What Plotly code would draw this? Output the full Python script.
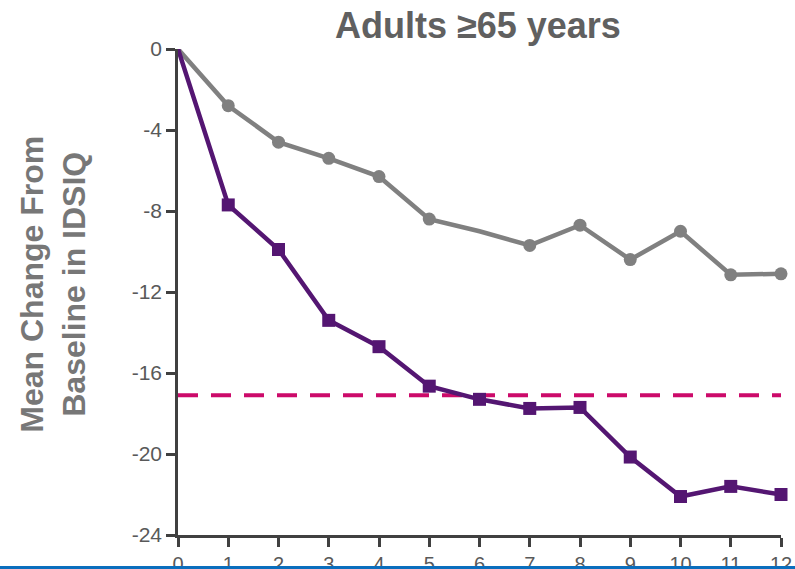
import plotly.graph_objects as go

# Weeks from baseline
weeks = [0, 1, 2, 3, 4, 5, 6, 7, 8, 9, 10, 11, 12]

# Mean change from baseline in IDSIQ
placebo = [0, -2.8, -4.6, -5.4, -6.3, -8.4, -9.0, -9.7, -8.7, -10.4, -9.0, -11.15, -11.1]
active = [0, -7.7, -9.9, -13.4, -14.7, -16.65, -17.3, -17.75, -17.7, -20.15, -22.1, -21.6, -22.0]

# Marker visibility per point (no marker at baseline; placebo week 6 unmarked)
placebo_marker = [0, 13, 13, 13, 13, 13, 0, 13, 13, 13, 13, 13, 13]
active_marker = [0, 13, 13, 13, 13, 13, 13, 13, 13, 13, 13, 13, 13]

reference_level = -17.1

y_ticks = [0, -4, -8, -12, -16, -20, -24]

axis_color = "#404040"
font_family = "Liberation Sans, Arial, sans-serif"

fig = go.Figure()

fig.add_trace(go.Scatter(
    x=[weeks[0], weeks[-1]], y=[reference_level, reference_level],
    mode="lines", line=dict(color="#cc0a6a", width=4, dash="20px,13px"),
    hoverinfo="skip", showlegend=False, cliponaxis=False,
))

fig.add_trace(go.Scatter(
    x=weeks, y=placebo, mode="lines+markers", name="Placebo",
    line=dict(color="#808080", width=4.5),
    marker=dict(symbol="circle", size=placebo_marker, color="#808080",
                opacity=1, line=dict(width=0)),
    cliponaxis=False, showlegend=False,
))

fig.add_trace(go.Scatter(
    x=weeks, y=active, mode="lines+markers", name="Active",
    line=dict(color="#541672", width=4.5),
    marker=dict(symbol="square", size=active_marker, color="#541672",
                opacity=1, line=dict(width=0)),
    cliponaxis=False, showlegend=False,
))

fig.update_layout(
    width=795, height=569,
    margin=dict(l=178, r=14, t=49, b=34),
    paper_bgcolor="white", plot_bgcolor="white",
    xaxis=dict(
        range=[0, 12], tickvals=weeks, ticktext=[str(w) for w in weeks],
        showline=True, linecolor=axis_color, linewidth=2.5,
        ticks="outside", ticklen=9, tickwidth=2.5, tickcolor=axis_color,
        showgrid=False, zeroline=False,
        tickfont=dict(family=font_family, size=20, color="#595959"),
        ticklabelstandoff=0, automargin=False,
    ),
    yaxis=dict(
        range=[-24, 0], tickvals=y_ticks, ticktext=[str(v) for v in y_ticks],
        showline=True, linecolor=axis_color, linewidth=2.5,
        ticks="outside", ticklen=9, tickwidth=2.5, tickcolor=axis_color,
        showgrid=False, zeroline=False,
        tickfont=dict(family=font_family, size=21, color="#595959"),
        automargin=False,
    ),
    annotations=[
        dict(
            text="<b>Adults ≥65 years</b>", xref="paper", yref="paper",
            x=(478 - 178) / 603, y=(535 - 26) / 486, xanchor="center", yanchor="middle",
            showarrow=False,
            font=dict(family=font_family, size=36, color="#606060"),
        ),
        dict(
            text="<b>Mean Change From<br>Baseline in IDSIQ</b>", xref="paper", yref="paper",
            x=(53 - 178) / 603, y=0.515, xanchor="center", yanchor="middle",
            textangle=-90, showarrow=False,
            font=dict(family=font_family, size=32, color="#777777"),
        ),
    ],
    shapes=[
        dict(
            type="line", xref="paper", yref="paper", layer="above",
            x0=-178 / 603, x1=(795 - 178) / 603,
            y0=(535 - 567.5) / 486, y1=(535 - 567.5) / 486,
            line=dict(color="#0a6ebd", width=3),
        ),
    ],
)

fig.write_html("out.html")
